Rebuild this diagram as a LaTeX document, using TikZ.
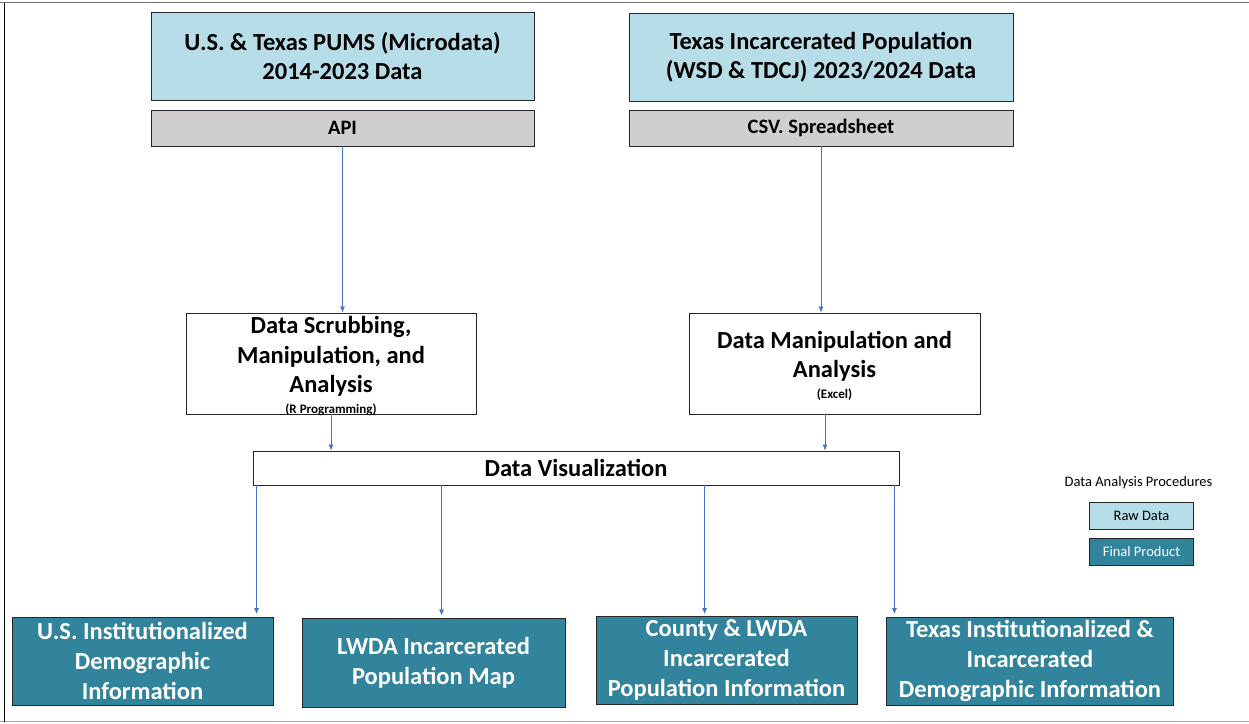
\documentclass[tikz,border=0pt]{standalone}
\usepackage{fontspec}
\setmainfont{Carlito}
\usetikzlibrary{arrows.meta}
\definecolor{rawblue}{HTML}{B7DEE8}
\definecolor{apigray}{HTML}{D0CECE}
\definecolor{finalteal}{HTML}{31849B}
\definecolor{arrowblue}{HTML}{4472C4}
\definecolor{boxline}{HTML}{262626}
\tikzset{
  box/.style={draw=boxline, line width=0.9pt, inner sep=0pt, align=center},
  bigtext/.style={font=\fontsize{24.5}{29.5}\selectfont\bfseries},
  rawbox/.style={box, fill=rawblue, bigtext},
  apibox/.style={box, fill=apigray, font=\fontsize{20.5}{24}\selectfont\bfseries},
  procbox/.style={box, fill=white},
  finalbox/.style={box, fill=finalteal, text=white, font=\fontsize{24.5}{30}\selectfont\bfseries},
  notetext/.style={font=\fontsize{13}{15}\selectfont\bfseries, inner sep=0pt},
  flow/.style={draw=arrowblue, line width=0.8pt, -{Latex[length=6pt,width=5pt]}},
  legbox/.style={box, line width=0.8pt, font=\fontsize{14.5}{17}\selectfont, minimum width=104pt, minimum height=27pt}
}
\begin{document}
\begin{tikzpicture}[x=1pt,y=-1pt]
\useasboundingbox (0,0) rectangle (1249,723);
% frame
\draw[color=black!55, line width=1.8pt] (0,2.5) -- (1249,2.5);
\draw[color=black!35, line width=1pt] (0,721.5) -- (1249,721.5);
\draw[color=black, line width=0.9pt] (4,2.5) -- (4,721.5);

% top sources
\node[rawbox, minimum width=383pt, minimum height=88pt] (pums) at (342.5,56) {U.S. \& Texas PUMS (Microdata)\\2014-2023 Data};
\node[apibox, minimum width=383pt, minimum height=36pt] (api) at (342.5,128) {API};
\node[rawbox, minimum width=384pt, minimum height=88pt] (tx) at (821,57) {Texas Incarcerated Population\\(WSD \& TDCJ) 2023/2024 Data};
\node[apibox, minimum width=384pt, minimum height=36pt] (csv) at (821,128) {CSV. Spreadsheet};

% processing
\node[procbox, minimum width=290pt, minimum height=101pt] (scrub) at (331,363.5) {};
\node[bigtext, align=center, inner sep=0pt] (scrubtxt) at (331,356.5) {Data Scrubbing,\\Manipulation, and\\Analysis};
\node[notetext] (scrubnote) at (331,409.5) {(R Programming)};

\node[procbox, minimum width=291pt, minimum height=101pt] (manip) at (834.5,363.5) {};
\node[bigtext, align=center, inner sep=0pt] (maniptxt) at (834.5,356.5) {Data Manipulation and\\Analysis};
\node[notetext] (manipnote) at (834.5,395) {(Excel)};

\node[procbox, bigtext, minimum width=646pt, minimum height=34pt] (viz) at (576,468) {Data Visualization};

% final products
\node[finalbox, minimum width=261pt, minimum height=88pt] (us) at (142.5,661) {U.S. Institutionalized\\Demographic\\Information};
\node[finalbox, minimum width=263pt, minimum height=89pt] (lwda) at (433.5,662.5) {LWDA Incarcerated\\Population Map};
\node[finalbox, minimum width=261pt, minimum height=88pt] (county) at (726.5,660) {County \& LWDA\\Incarcerated\\Population Information};
\node[finalbox, minimum width=287pt, minimum height=88pt] (txinst) at (1030,661) {Texas Institutionalized \&\\Incarcerated\\Demographic Information};

% legend
\node[font=\fontsize{14.5}{17}\selectfont, inner sep=0pt] (legtitle) at (1138.5,482.5) {Data Analysis Procedures};
\node[legbox, fill=rawblue] (legraw) at (1141.5,515.5) {Raw Data};
\node[legbox, fill=finalteal, text=white] (legfinal) at (1141.5,552) {Final Product};

% connectors
\draw[flow] (api.south) -- (api.south |- scrub.north);
\draw[flow] (csv.south) -- (csv.south |- manip.north);
\draw[flow] (scrub.south) -- (scrub.south |- viz.north);
\draw[flow] ([xshift=-9.5pt]manip.south) -- ([xshift=-9.5pt]manip.south |- viz.north);
\draw[flow, shorten >=2.5pt] ([xshift=4pt]viz.south west) -- ([xshift=4pt]viz.south west |- us.north);
\draw[flow, shorten >=2pt] ([xshift=189pt]viz.south west) -- ([xshift=189pt]viz.south west |- lwda.north);
\draw[flow, shorten >=1.5pt] ([xshift=452pt]viz.south west) -- ([xshift=452pt]viz.south west |- county.north);
\draw[flow, shorten >=2.5pt] ([xshift=-5pt]viz.south east) -- ([xshift=-5pt]viz.south east |- txinst.north);
\end{tikzpicture}
\end{document}
